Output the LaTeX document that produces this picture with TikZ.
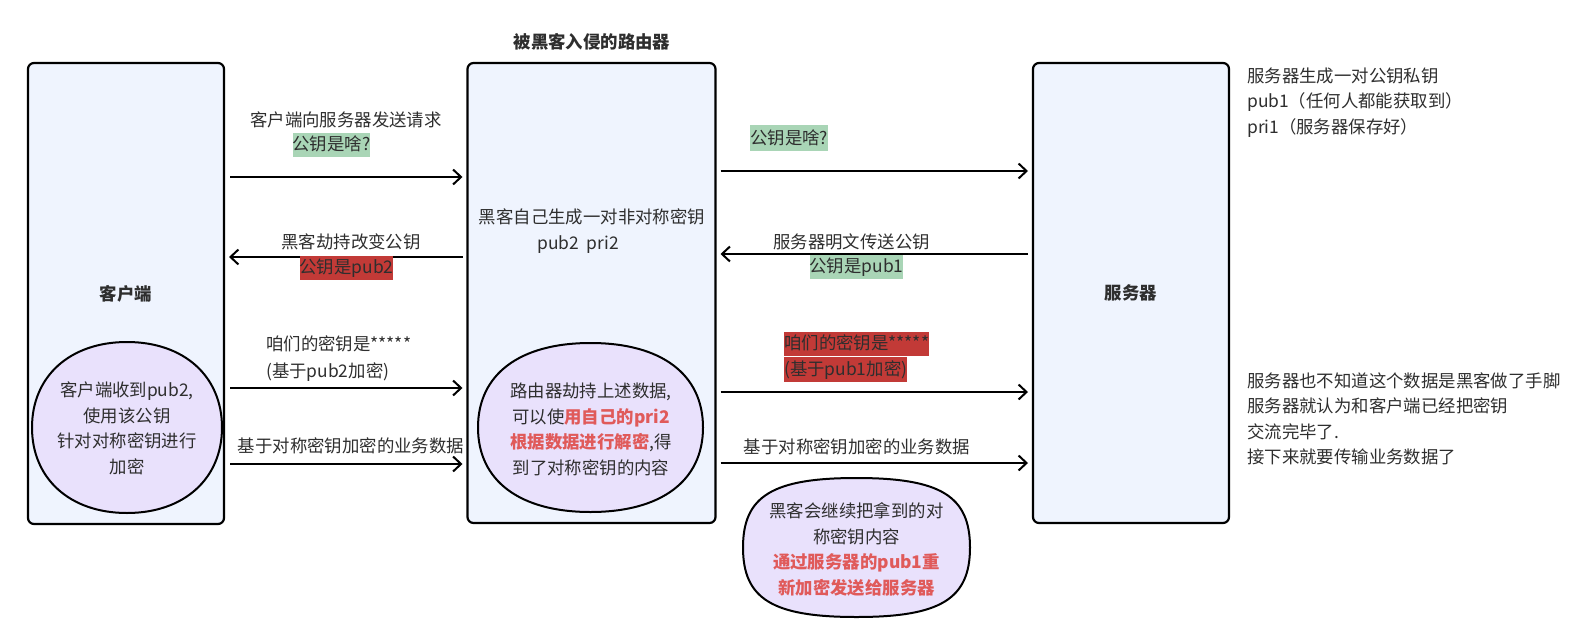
\documentclass[tikz,border=0pt]{standalone}
\usepackage{fontspec}
\setmainfont{Noto Sans CJK SC}
\usetikzlibrary{arrows.meta,shapes.geometric,calc}
\definecolor{boxfill}{HTML}{EFF4FE}
\definecolor{bubfill}{HTML}{E9E1FC}
\definecolor{hlgreen}{HTML}{A9D5B6}
\definecolor{hlred}{HTML}{C23A37}
\definecolor{hot}{HTML}{E05A5A}
\definecolor{txt}{HTML}{2E2E2E}
\newcommand\fs{\fontsize{17.4}{25.5}\selectfont}
\newcommand\redb[1]{\textcolor{hot}{\bfseries #1}}
\newcommand\sqpath[2]{%
 \path[bubdraw] (#1.east) .. controls ($(#1.east)!#2!(#1.north east)$) and ($(#1.north)!#2!(#1.north east)$) .. (#1.north)
 .. controls ($(#1.north)!#2!(#1.north west)$) and ($(#1.west)!#2!(#1.north west)$) .. (#1.west)
 .. controls ($(#1.west)!#2!(#1.south west)$) and ($(#1.south)!#2!(#1.south west)$) .. (#1.south)
 .. controls ($(#1.south)!#2!(#1.south east)$) and ($(#1.east)!#2!(#1.south east)$) .. (#1.east) -- cycle;}
\tikzset{
  box/.style={draw=black, line width=2.2pt, rounded corners=6pt, fill=boxfill, text=txt, font=\fs\bfseries, outer sep=0pt},
  bubble/.style={rectangle, inner sep=0pt, outer sep=0pt},
  bubdraw/.style={draw=black, line width=2pt, fill=bubfill},
  arr/.style={line width=2pt, -{Straight Barb[length=8pt,width=15pt]}},
  t/.style={text=txt, font=\fs, inner sep=0pt, text height=17.5pt, text depth=6.5pt},
  tm/.style={text=txt, font=\fs, inner sep=0pt},
  hl/.style={fill=#1, text=txt, font=\fs, inner sep=0pt, text height=17.5pt, text depth=6.5pt},
}
\begin{document}
\begin{tikzpicture}[x=1pt,y=-1pt]
\useasboundingbox (0,0) rectangle (1576,634);

% title
\node[text=txt, font=\fs\bfseries, inner sep=0pt] (title) at (592,42) {被黑客入侵的路由器};

% boxes
\node[box, minimum width=196pt, minimum height=461pt] (client) at (126,293.5) {客户端};
\node[box, minimum width=248pt, minimum height=460pt] (router) at (591.5,293) {};
\node[box, minimum width=196pt, minimum height=460pt] (server) at (1131,293) {服务器};

% router text
\node[t] (rt1) at (592,218) {黑客自己生成一对非对称密钥};
\node[t] (rt2) at (578,244) {pub2\ \ pri2};

% bubbles
\node[bubble, minimum width=190pt, minimum height=171pt] (ce) at (127,427.5) {};
\sqpath{ce}{0.6}
\node[tm, align=center] (cet) at (127,428.5) {客户端收到pub2,\\使用该公钥\\针对对称密钥进行\\加密};

\node[bubble, minimum width=225pt, minimum height=169pt] (re) at (590.5,427.5) {};
\sqpath{re}{0.63}
\node[tm, align=center] (ret) at (591,429.5) {路由器劫持上述数据,\\可以使\redb{用自己的pri2}\\\redb{根据数据进行解密},得\\到了对称密钥的内容};

\node[bubble, minimum width=227pt, minimum height=139pt] (he) at (856.5,547.5) {};
\sqpath{he}{0.74}
\node[tm, align=center] (het) at (856.5,549.5) {黑客会继续把拿到的对\\称密钥内容\\\redb{通过服务器的pub1重}\\\redb{新加密发送给服务器}};

% arrow levels
\coordinate (y1) at (0,177);
\coordinate (y2) at (0,257);
\coordinate (y3) at (0,388);
\coordinate (y4) at (0,464);
\coordinate (z1) at (0,171);
\coordinate (z2) at (0,254);
\coordinate (z3) at (0,392);
\coordinate (z4) at (0,463);

% left arrows
\draw[arr, shorten <=6pt, shorten >=5pt] (client.east |- y1) -- (router.west |- y1);
\draw[arr, shorten <=5pt, shorten >=5pt] (router.west |- y2) -- (client.east |- y2);
\draw[arr, shorten <=6pt, shorten >=5pt] (client.east |- y3) -- (router.west |- y3);
\draw[arr, shorten <=6pt, shorten >=5pt] (client.east |- y4) -- (router.west |- y4);

% right arrows
\draw[arr, shorten <=5pt, shorten >=5pt] (router.east |- z1) -- (server.west |- z1);
\draw[arr, shorten <=5pt, shorten >=5pt] (server.west |- z2) -- (router.east |- z2);
\draw[arr, shorten <=5pt, shorten >=5pt] (router.east |- z3) -- (server.west |- z3);
\draw[arr, shorten <=5pt, shorten >=5pt] (router.east |- z4) -- (server.west |- z4);

% left labels
\node[t] (l1a) at (346,121) {客户端向服务器发送请求};
\node[hl=hlgreen] (l1b) at (331.5,145) {公钥是啥?};
\node[t] (l2a) at (351,243) {黑客劫持改变公钥};
\node[hl=hlred] (l2b) at (346.5,267.5) {公钥是pub2};
\node[t, anchor=west] (l3a) at (266,345) {咱们的密钥是*****};
\node[t, anchor=west] (l3b) at (266,372) {(基于pub2加密)};
\node[t] (l4) at (351,447) {基于对称密钥加密的业务数据};

% right labels
\node[hl=hlgreen, anchor=west, text height=19pt, text depth=7pt] (r1) at (750,138) {公钥是啥?};
\node[t] (r2a) at (851.5,243) {服务器明文传送公钥};
\node[hl=hlgreen] (r2b) at (856.5,267) {公钥是pub1};
\node[hl=hlred, anchor=north west] (r3a) at (784,332) {咱们的密钥是*****};
\node[hl=hlred, anchor=north west, text height=18.5pt] (r3b) at (784,357) {(基于pub1加密)};
\node[t] (r4) at (857,448) {基于对称密钥加密的业务数据};

% side notes
\node[tm, align=left, anchor=west] (n1) at (1247,102.5) {服务器生成一对公钥私钥\\pub1（任何人都能获取到）\\pri1（服务器保存好）};
\node[tm, align=left, anchor=west] (n2) at (1247,419) {服务器也不知道这个数据是黑客做了手脚\\服务器就认为和客户端已经把密钥\\交流完毕了.\\接下来就要传输业务数据了};
\end{tikzpicture}
\end{document}
